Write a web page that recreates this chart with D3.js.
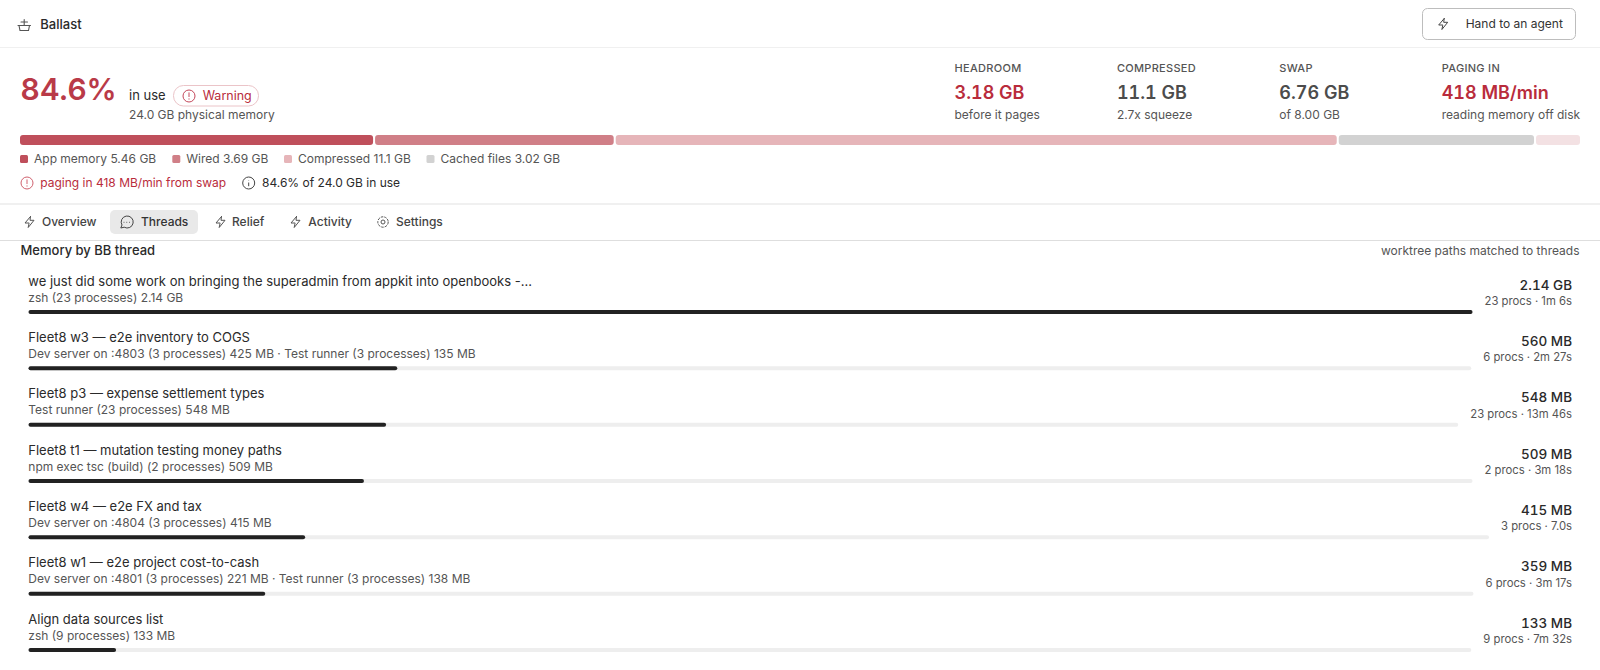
<!DOCTYPE html>
<html><head><meta charset="utf-8">
<script src="https://cdn.jsdelivr.net/npm/d3@7/dist/d3.min.js"></script>
<style>
html,body{margin:0;padding:0;background:#fff;overflow:hidden}
svg{display:block;font-family:Inter,"Noto Sans",sans-serif}
.tn{font-variant-numeric:tabular-nums}
</style></head><body><svg id="c" width="1600" height="670"></svg>
<script>
const segNames=["App memory","Wired","Compressed","Cached files","Free"];
const segValues=[5.46,3.69,11.15,3.02,0.68];
const segLabels=["5.46 GB","3.69 GB","11.1 GB","3.02 GB"];
const segColors=["#bf4f5b","#d07f87","#e6b5b9","#d2d2d2","#f3e1e3"];
const statHeads=["HEADROOM","COMPRESSED","SWAP","PAGING IN"];
const statVals=["3.18 GB","11.1 GB","6.76 GB","418 MB/min"];
const statSubs=["before it pages","2.7x squeeze","of 8.00 GB","reading memory off disk"];
const statCols=["#b92c3c","#4c4c4c","#4c4c4c","#b92c3c"];
const tabs=["Overview","Threads","Relief","Activity","Settings"];
const threadTitles=["we just did some work on bringing the superadmin from appkit into openbooks -...","Fleet8 w3 — e2e inventory to COGS","Fleet8 p3 — expense settlement types","Fleet8 t1 — mutation testing money paths","Fleet8 w4 — e2e FX and tax","Fleet8 w1 — e2e project cost-to-cash","Align data sources list"];
const threadSubs=["zsh (23 processes) 2.14 GB","Dev server on :4803 (3 processes) 425 MB · Test runner (3 processes) 135 MB","Test runner (23 processes) 548 MB","npm exec tsc (build) (2 processes) 509 MB","Dev server on :4804 (3 processes) 415 MB","Dev server on :4801 (3 processes) 221 MB · Test runner (3 processes) 138 MB","zsh (9 processes) 133 MB"];
const threadMB=[2191,560,548,509,415,359,133];
const threadLabels=["2.14 GB","560 MB","548 MB","509 MB","415 MB","359 MB","133 MB"];
const threadProcs=["23 procs · 1m 6s","6 procs · 2m 27s","23 procs · 13m 46s","2 procs · 3m 18s","3 procs · 7.0s","6 procs · 3m 17s","9 procs · 7m 32s"];

const svg=d3.select("#c");
const T=(x,y,s,size,fill,opt={})=>svg.append("text").attr("x",x).attr("y",y).text(s)
  .attr("font-size",size).attr("fill",fill).attr("font-weight",opt.w||400)
  .attr("text-anchor",opt.a||"start").attr("letter-spacing",opt.ls||null).attr("class",opt.c||null);
const hline=(y,c)=>svg.append("rect").attr("x",0).attr("y",y).attr("width",1600).attr("height",1).attr("fill",c);
const bolt=(x,y,c)=>svg.append("path").attr("transform",`translate(${x},${y})`)
  .attr("d","M6.5 0.5 L1 7 H4.8 M6.5 0.5 L6 4.3 H10 L4.2 11.5 L5 7.6").attr("fill","none").attr("stroke",c).attr("stroke-width",1).attr("stroke-linejoin","round").attr("stroke-linecap","round");
const alertI=(cx,cy,c)=>{const g=svg.append("g").attr("stroke",c).attr("fill","none").attr("stroke-width",1);
  g.append("circle").attr("cx",cx).attr("cy",cy).attr("r",6);
  g.append("path").attr("d",`M${cx} ${cy-3.2}V${cy+.6}M${cx} ${cy+2.8}V${cy+3.2}`).attr("stroke-linecap","round");};

// header
const logo=svg.append("g").attr("stroke","#555").attr("fill","none").attr("stroke-width",1.1).attr("stroke-linecap","round");
logo.append("path").attr("d","M18 25.5H30.5 M19 25.5 L20 30.5 H28.5 L29.5 25.5 M24.2 19.5V25 M21 22H27.5");
T(40.3,29,"Ballast",13,"#2a2a2a",{w:500});
svg.append("rect").attr("x",1422.5).attr("y",8.5).attr("width",153).attr("height",31).attr("rx",5).attr("fill","#fff").attr("stroke","#bdbdbd");
bolt(1437.7,18,"#444");
T(1465.7,28.3,"Hand to an agent",12,"#333");
hline(47,"#f0f0f0");

// headline
T(20.5,100,"84.6%",30,"#b93a48",{w:600});
T(129,100,"in use",13,"#2a2a2a");
svg.append("rect").attr("x",173.5).attr("y",85.5).attr("width",85).attr("height",20.5).attr("rx",10).attr("fill","#fff").attr("stroke","#ebc4c8");
alertI(189,96,"#c4475a");
T(202.7,100,"Warning",12.5,"#b92c3c");
T(129,119,"24.0 GB physical memory",12,"#555");

// stats
const statX=d3.scalePoint().domain(statHeads).range([954.5,1441.7]);
statHeads.forEach((h,i)=>{const x=statX(h);
  T(x,72,h,11,"#555",{w:500,ls:"0.3px"});
  T(x,99,statVals[i],18,statCols[i],{w:600,c:"tn"});
  T(x,119,statSubs[i],12,"#555");
});

// stacked bar
const gap=2,barL=20,barR=1580;
const stackX=d3.scaleLinear().domain([0,d3.sum(segValues)]).range([0,barR-barL-gap*(segValues.length-1)]);
const cum=d3.cumsum(segValues);
svg.selectAll("rect.seg").data(segValues).join("rect").attr("class","seg")
  .attr("x",(d,i)=>barL+stackX(cum[i]-d)+gap*i).attr("y",135).attr("width",d=>stackX(d)).attr("height",10).attr("rx",3)
  .attr("fill",(d,i)=>segColors[i]);

// legend
const legendX=[20,172.3,284,426.5];
segLabels.forEach((l,i)=>{
  svg.append("rect").attr("x",legendX[i]).attr("y",155).attr("width",8).attr("height",8).attr("rx",1.5).attr("fill",segColors[i]);
  T(legendX[i]+14,163,`${segNames[i]} ${l}`,12,"#555");
});
alertI(27,183,"#d0616e");
T(40.3,186.7,"paging in 418 MB/min from swap",12,"#b92c3c");
const g2=svg.append("g").attr("stroke","#444").attr("fill","none");
g2.append("circle").attr("cx",248.7).attr("cy",183).attr("r",6);
g2.append("path").attr("d","M248.7 182.5V186.2M248.7 180V180.4");
T(262,186.7,"84.6% of 24.0 GB in use",12,"#2a2a2a");
hline(203.5,"#e2e2e2");

// tabs
svg.append("rect").attr("x",110).attr("y",210).attr("width",88).attr("height",24).attr("rx",5).attr("fill","#e9e9e9");
const tabX=[42,141,232,308.3,396];
tabs.forEach((t,i)=>T(tabX[i],225.7,t,12,i==1?"#333":"#444",{w:500}));
[24,215,290].forEach(x=>bolt(x,216,"#555"));
const chat=svg.append("g").attr("stroke","#444").attr("fill","none");
chat.append("path").attr("d","M120.8 228 L122 225 A6 6 0 1 1 124.2 227.2 Z").attr("stroke-linejoin","round");
chat.append("path").attr("d","M124 222.3h.01M126.8 222.3h.01M129.6 222.3h.01").attr("stroke-linecap","round");
const gear=svg.append("g").attr("stroke","#555").attr("fill","none");
gear.append("circle").attr("cx",383).attr("cy",222).attr("r",2);
gear.append("circle").attr("cx",383).attr("cy",222).attr("r",5.2).attr("stroke-dasharray","2.6 1");
hline(240,"#dedede");

T(20.5,255,"Memory by BB thread",13,"#2a2a2a",{w:500});
T(1579.5,255,"worktree paths matched to threads",12,"#555",{a:"end"});

// rows
const rowY=d3.scaleLinear().domain([0,threadTitles.length-1]).range([0,338]);
threadTitles.forEach((t,i)=>{
  const y=rowY(i);
  T(28.3,285.5+y,t,13,"#2a2a2a");
  T(28.3,301.5+y,threadSubs[i],12,"#555");
  T(1572,289.5+y,threadLabels[i],13.5,"#2a2a2a",{a:"end",w:500,c:"tn"});
  const p=T(1572,305+y,threadProcs[i],11.3,"#555",{a:"end"});
  const right=1572-p.node().getComputedTextLength()-12;
  const x=d3.scaleLinear().domain([0,d3.max(threadMB)]).range([28.5,right]);
  svg.append("rect").attr("x",x(0)).attr("y",310+y).attr("width",x.range()[1]-28.5).attr("height",4).attr("rx",2).attr("fill","#eeeeee");
  svg.append("rect").attr("x",x(0)).attr("y",310+y).attr("width",x(threadMB[i])-28.5).attr("height",4).attr("rx",2).attr("fill","#222222");
});
</script></body></html>
